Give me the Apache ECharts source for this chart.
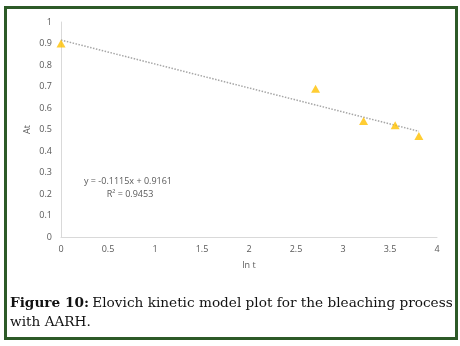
<!DOCTYPE html>
<html>
<head>
<meta charset="utf-8">
<script src="https://cdn.jsdelivr.net/npm/echarts@6/dist/echarts.min.js"></script>
<style>
  html, body { margin: 0; padding: 0; background: #fff; }
  #chart { width: 460px; height: 346px; }
</style>
</head>
<body>
<div id="chart"></div>
<script>
// ln t values and corresponding At readings
const lnT = [0, 2.708, 3.219, 3.555, 3.807];
const At = [0.90, 0.69, 0.54, 0.52, 0.47];

// Linear fit reported for the Elovich model
const slope = -0.1115;
const intercept = 0.9161;
const rSquared = 0.9453;

const xTicks = [0, 0.5, 1, 1.5, 2, 2.5, 3, 3.5, 4];
const yTicks = [0, 0.1, 0.2, 0.3, 0.4, 0.5, 0.6, 0.7, 0.8, 0.9, 1];

const fitStart = lnT[0];
const fitEnd = lnT[lnT.length - 1];
const fitLine = [
  [fitStart, intercept + slope * fitStart],
  [fitEnd, intercept + slope * fitEnd]
];

const labelColor = '#595959';
const labelFont = 'Open Sans';
const captionFont = '"DejaVu Serif"';

const chart = echarts.init(document.getElementById('chart'), null, { renderer: 'canvas' });

chart.setOption({
  animation: false,
  backgroundColor: '#fff',
  grid: { left: 61, right: 23, top: 22, bottom: 109 },
  xAxis: {
    type: 'value',
    min: xTicks[0],
    max: xTicks[xTicks.length - 1],
    interval: 0.5,
    name: 'ln t',
    nameLocation: 'middle',
    nameGap: 24,
    nameTextStyle: { color: labelColor, fontSize: 9, fontFamily: labelFont },
    axisLine: { show: true, lineStyle: { color: '#d9d9d9', width: 1 } },
    axisTick: { show: false },
    splitLine: { show: false },
    axisLabel: { color: labelColor, fontSize: 9, fontFamily: labelFont, margin: 8 }
  },
  yAxis: {
    type: 'value',
    min: yTicks[0],
    max: yTicks[yTicks.length - 1],
    interval: 0.1,
    name: 'At',
    nameLocation: 'middle',
    nameGap: 29,
    nameMoveOverlap: false,
    nameRotate: 90,
    nameTextStyle: { color: labelColor, fontSize: 9, fontFamily: labelFont },
    axisLine: { show: true, lineStyle: { color: '#d9d9d9', width: 1 } },
    axisTick: { show: false },
    splitLine: { show: false },
    axisLabel: {
      color: labelColor, fontSize: 9, fontFamily: labelFont, margin: 9,
      formatter: v => String(Math.round(v * 10) / 10)
    }
  },
  series: [
    {
      name: 'Trend',
      type: 'line',
      data: fitLine,
      symbol: 'none',
      lineStyle: { color: '#a6a6a6', width: 1.5, type: [1.5, 1.5] },
      z: 2
    },
    {
      name: 'At',
      type: 'scatter',
      data: lnT.map((x, i) => [x, At[i]]),
      symbol: 'triangle',
      symbolSize: [9, 8],
      itemStyle: { color: '#ffc000' },
      z: 3
    }
  ],
  graphic: [
    {
      type: 'rect',
      shape: { x: 5.5, y: 7.5, width: 451, height: 331 },
      style: { fill: 'none', stroke: '#2d5a27', lineWidth: 3 },
      silent: true
    },
    {
      type: 'text',
      x: 128, y: 181,
      style: {
        text: 'y = ' + slope.toFixed(4) + 'x + ' + intercept.toFixed(4),
        fill: labelColor, font: '9px "Open Sans"', align: 'center', verticalAlign: 'middle'
      }
    },
    {
      type: 'text',
      x: 130, y: 194,
      style: {
        text: 'R² = ' + rSquared.toFixed(4),
        fill: labelColor, font: '9px "Open Sans"', align: 'center', verticalAlign: 'middle'
      }
    },
    {
      type: 'text',
      x: 10, y: 303,
      style: {
        text: '{b|Figure 10:} {n|Elovich kinetic model plot for the bleaching process}',
        verticalAlign: 'middle',
        rich: {
          b: { font: 'bold 13.65px ' + captionFont, fill: '#111' },
          n: { font: '13.65px ' + captionFont, fill: '#111' }
        }
      }
    },
    {
      type: 'text',
      x: 10, y: 322,
      style: {
        text: 'with AARH.',
        fill: '#111', font: '13.65px ' + captionFont, verticalAlign: 'middle'
      }
    }
  ]
});
</script>
</body>
</html>
